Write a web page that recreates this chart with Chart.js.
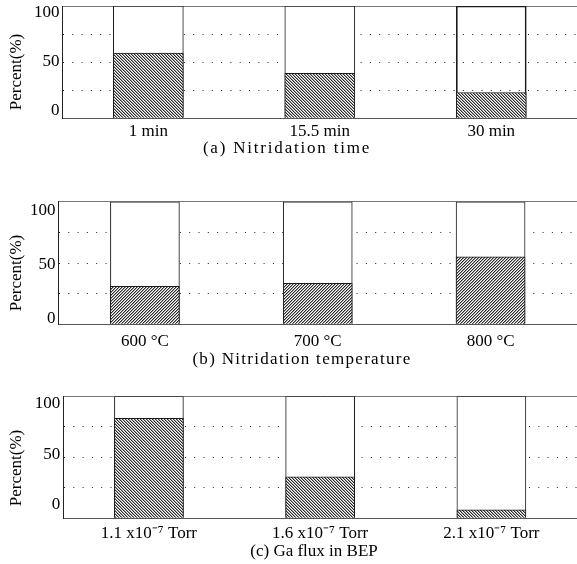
<!DOCTYPE html>
<html>
<head>
<meta charset="utf-8">
<script src="https://cdn.jsdelivr.net/npm/chart.js@4"></script>
<style>
  html, body { margin: 0; padding: 0; background: #fff; width: 577px; height: 564px; overflow: hidden; position: relative; }
  canvas { position: absolute; left: 0; }
</style>
</head>
<body>
<canvas id="pa"></canvas>
<canvas id="pb"></canvas>
<canvas id="pc"></canvas>
<script>
// ---- data ----
const timeLabels = ['1 min', '15.5 min', '30 min'];
const timeValues = [58, 40, 23];
const tempLabels = ['600 °C', '700 °C', '800 °C'];
const tempValues = [31, 33.5, 55];
const fluxLabels = ['1.1 x10⁻⁷ Torr', '1.6 x10⁻⁷ Torr', '2.1 x10⁻⁷ Torr'];
const fluxValues = [82, 34, 7];
const totals = [100, 100, 100];
const yTickLabels = [0, 50, 100];
const captions = ['(a) Nitridation time', '(b) Nitridation temperature', '(c) Ga flux in BEP'];
const yTitle = 'Percent(%)';

const FONT = '"Liberation Serif", "Times New Roman", serif';

function hatch(dir) {
  const c = document.createElement('canvas');
  c.width = 3; c.height = 3;
  const g = c.getContext('2d');
  g.fillStyle = '#fff'; g.fillRect(0, 0, 3, 3);
  for (let x = 0; x < 3; x++) for (let y = 0; y < 3; y++) {
    const k = ((dir === 'back' ? x - y : x + y) % 3 + 3) % 3;
    if (k === 0) { g.fillStyle = '#2a2a2a'; g.fillRect(x, y, 1, 1); }
    else if (k === 1) { g.fillStyle = '#a0a0a0'; g.fillRect(x, y, 1, 1); }
  }
  return g.createPattern(c, 'repeat');
}

const captionPlugin = {
  id: 'caption',
  afterDraw(chart, args, o) {
    const ctx = chart.ctx;
    ctx.save();
    ctx.font = '17px ' + FONT;
    ctx.fillStyle = '#000';
    ctx.textAlign = 'center';
    ctx.textBaseline = 'middle';
    if ('letterSpacing' in ctx) ctx.letterSpacing = (o.spacing || 0) + 'px';
    ctx.fillText(o.text, o.x, o.y);
    ctx.restore();
  }
};

function panel(id, cfg) {
  const cv = document.getElementById(id);
  const top = cfg.canvasTop;
  const h = Math.round(cfg.canvasBottom - top);
  cv.width = 577; cv.height = h;
  cv.style.top = top + 'px';
  cv.style.width = '577px'; cv.style.height = h + 'px';
  const titleLH = 17 * 1.2;
  const titlePadTop = cfg.yTitleX - titleLH / 2;
  const titleBox = titleLH + titlePadTop;
  new Chart(cv.getContext('2d'), {
    type: 'bar',
    plugins: [captionPlugin],
    data: {
      labels: cfg.labels,
      datasets: [
        { data: cfg.values, backgroundColor: hatch(cfg.dir), borderColor: '#1a1a1a', borderWidth: 1,
          grouped: false, barThickness: cfg.barW, borderSkipped: 'start' },
        { data: totals, backgroundColor: cfg.totalFill, borderColor: '#1a1a1a', borderWidth: 1,
          grouped: false, barThickness: cfg.barW, borderSkipped: 'start' }
      ]
    },
    options: {
      responsive: false, animation: false, devicePixelRatio: 1,
      layout: { padding: 0 },
      plugins: {
        legend: { display: false }, tooltip: { enabled: false },
        title: { display: true, position: 'left', text: yTitle, color: '#000',
                 font: { family: FONT, size: 17, weight: 'normal' }, padding: { top: titlePadTop, bottom: 0 } },
        caption: { text: cfg.caption, x: cfg.capX, y: cfg.capY - top, spacing: cfg.capSpacing }
      },
      scales: {
        x: {
          type: 'category', position: 'bottom', offset: true,
          grid: { display: false, drawTicks: false },
          border: { display: true, color: '#555', width: 1 },
          ticks: { color: '#000', font: { family: FONT, size: 17 }, padding: cfg.tickPad, maxRotation: 0, autoSkip: false },
          afterFit: s => { s.height = cfg.canvasBottom - cfg.plotBottom; }
        },
        x2: {
          type: 'category', position: 'top', labels: cfg.labels, offset: true,
          grid: { display: false, drawTicks: false },
          border: { display: true, color: '#777', width: 1 },
          ticks: { display: false },
          afterFit: s => { s.height = cfg.plotTop - top; }
        },
        y: {
          position: 'left', min: 0, max: 100,
          ticks: { display: false, stepSize: 25 },
          grid: {
            drawTicks: false, lineWidth: 1,
            color: c => (c.tick && (c.tick.value === 0 || c.tick.value === 100)) ? 'rgba(0,0,0,0)' : '#222'
          },
          border: { display: true, color: '#222', width: 1, dash: [1, 8.3] },
          afterFit: s => { s.width = 0; }
        },
        yLabels: {
          type: 'linear', position: 'left', min: cfg.labelRange[0], max: cfg.labelRange[1],
          grid: { display: false, drawTicks: false },
          border: { display: false },
          ticks: { color: '#000', font: { family: FONT, size: 17 }, padding: 3 },
          afterBuildTicks: s => { s.ticks = yTickLabels.map(v => ({ value: v })); },
          afterFit: s => { s.width = cfg.plotLeft - titleBox; }
        }
      }
    }
  });
}

panel('pa', { canvasTop: -17, canvasBottom: 161, plotTop: 6, plotBottom: 118.3, plotLeft: 62.6, yTitleX: 16.5,
  tickPad: 3.5, barW: 70, labels: timeLabels, values: timeValues, dir: 'back',
  labelRange: [-7.8, 106.8],
  totalFill: ['#ffffff', '#ffffff', 'rgba(255,255,255,0)'],
  caption: captions[0], capX: 287, capY: 149, capSpacing: 1.8 });
panel('pb', { canvasTop: 174, canvasBottom: 372, plotTop: 201.8, plotBottom: 324.3, plotLeft: 58.5, yTitleX: 16.5,
  tickPad: 7, barW: 69, labels: tempLabels, values: tempValues, dir: 'fwd',
  labelRange: [-5, 108.1],
  totalFill: '#ffffff',
  caption: captions[1], capX: 302, capY: 360, capSpacing: 1.3 });
panel('pc', { canvasTop: 372.3, canvasBottom: 564, plotTop: 396.7, plotBottom: 518.3, plotLeft: 63.3, yTitleX: 16.5,
  tickPad: 4.8, barW: 69, labels: fluxLabels, values: fluxValues, dir: 'back',
  labelRange: [-13.1, 106.6],
  totalFill: '#ffffff',
  caption: captions[2], capX: 314, capY: 551.7, capSpacing: 0 });
</script>
</body>
</html>
